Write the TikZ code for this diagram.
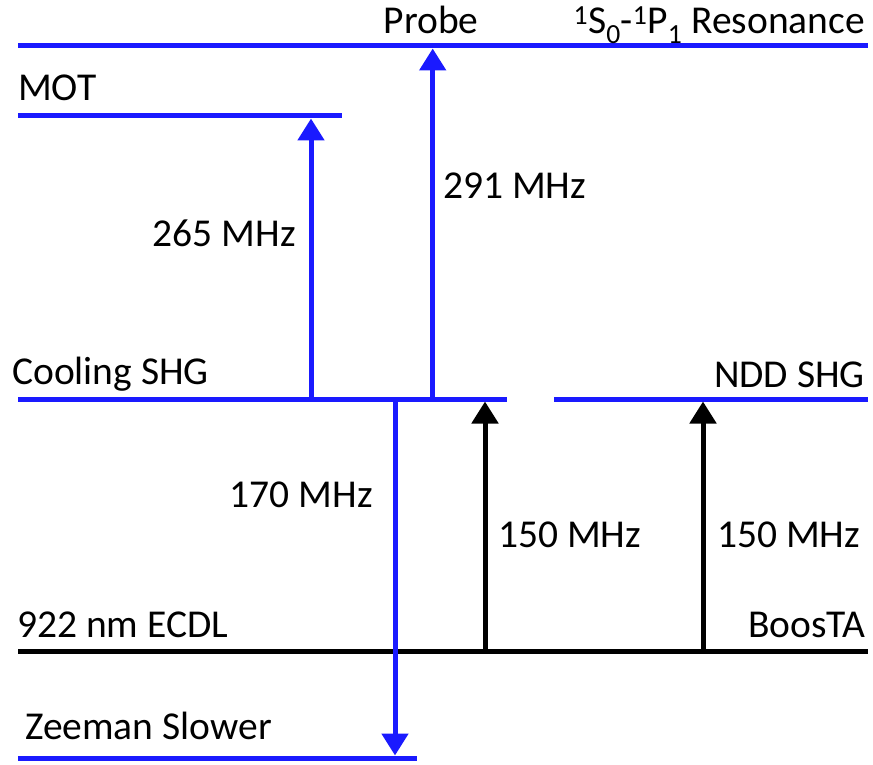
\documentclass[tikz,border=0pt]{standalone}
\usepackage{fontspec}
\setmainfont{Carlito}
\usetikzlibrary{arrows.meta}
\definecolor{lvlblue}{RGB}{26,26,255}
\tikzset{
  lbl/.style={inner sep=0pt, font=\fontsize{39.5}{46}\selectfont},
  bluelevel/.style={draw=lvlblue, line width=5pt},
  blacklevel/.style={draw=black, line width=5pt},
  bluearrow/.style={draw=lvlblue, line width=5pt, -{Triangle[width=26pt,length=22pt]}},
  blackarrow/.style={draw=black, line width=5pt, -{Triangle[width=26pt,length=22pt]}}
}
\begin{document}
\begin{tikzpicture}[x=1pt,y=-1pt]
\useasboundingbox (0,0) rectangle (873,765);
% levels
\coordinate (resL) at (18,46);   \coordinate (resR) at (868,46);
\coordinate (motL) at (18,116);  \coordinate (motR) at (342,116);
\coordinate (coolL) at (18,399); \coordinate (coolR) at (507,399);
\coordinate (nddL) at (554,399); \coordinate (nddR) at (868,399);
\coordinate (ecdlL) at (18,651); \coordinate (ecdlR) at (868,651);
\coordinate (zeeL) at (18,758);  \coordinate (zeeR) at (417,758);
\draw[bluelevel] (resL) -- (resR);
\draw[bluelevel] (motL) -- (motR);
\draw[bluelevel] (coolL) -- (coolR);
\draw[bluelevel] (nddL) -- (nddR);
\draw[blacklevel] (ecdlL) -- (ecdlR);
\draw[bluelevel] (zeeL) -- (zeeR);
% arrow end points
\coordinate (a265s) at (311,399); \coordinate (a265e) at (311,118.5);
\coordinate (a291s) at (432.7,399); \coordinate (a291e) at (432.7,48.5);
\coordinate (a170s) at (395,399); \coordinate (a170e) at (395,755.5);
\coordinate (b1s) at (485,651); \coordinate (b1e) at (485,401.5);
\coordinate (b2s) at (703,651); \coordinate (b2e) at (703,401.5);
\draw[bluearrow] (a265s) -- (a265e);
\draw[bluearrow] (a291s) -- (a291e);
\draw[bluearrow] (a170s) -- (a170e);
\draw[blackarrow] (b1s) -- (b1e);
\draw[blackarrow] (b2s) -- (b2e);
% labels
\node[lbl, anchor=base] (probe) at (431,34) {Probe};
\node[lbl, anchor=base east] (reson) at (865,34) {\textsuperscript{1}S\textsubscript{0}-\textsuperscript{1}P\textsubscript{1} Resonance};
\node[lbl, anchor=base west] (mot) at (18,101) {MOT};
\node[lbl, anchor=base east] (f265) at (296,246.5) {265 MHz};
\node[lbl, anchor=base west] (f291) at (443,198.5) {291 MHz};
\node[lbl, anchor=base west] (cool) at (12,384.5) {Cooling SHG};
\node[lbl, anchor=base east] (ndd) at (865,387.5) {NDD SHG};
\node[lbl, anchor=base east] (f170) at (373,507.5) {170 MHz};
\node[lbl, anchor=base west] (f150a) at (498,547) {150 MHz};
\node[lbl, anchor=base west] (f150b) at (717,547) {150 MHz};
\node[lbl, anchor=base west] (ecdl) at (17,637.5) {922 nm ECDL};
\node[lbl, anchor=base east] (boosta) at (866,637.5) {BoosTA};
\node[lbl, anchor=base west] (zee) at (25,739.5) {Zeeman Slower};
\end{tikzpicture}
\end{document}
